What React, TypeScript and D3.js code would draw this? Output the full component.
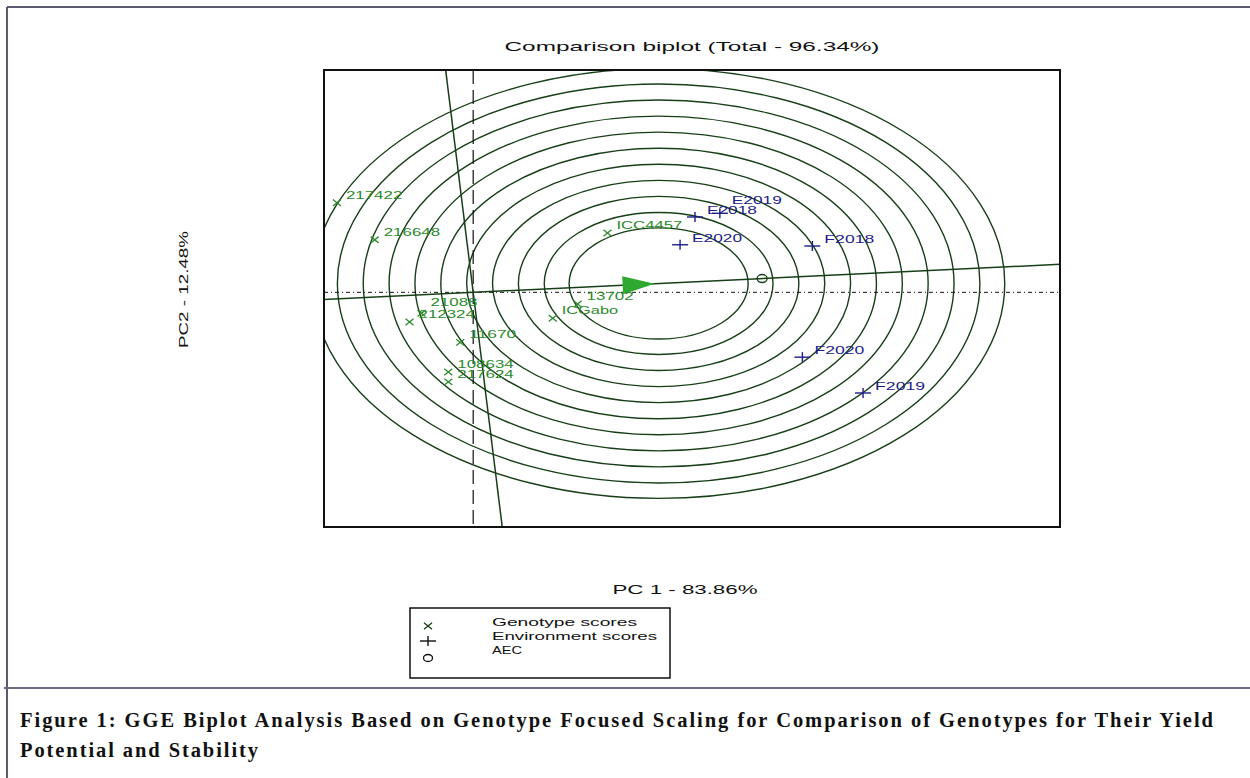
import * as d3 from 'd3';

// genotype scores (PC1, PC2)
const genotypes = ['217422', '216648', 'ICC4457', '13702', 'ICGabo', '21088', '212324', '11670', '108634', '217624'];
const genoPC1 = [-1.37, -0.99, 1.35, 1.05, 0.8, -0.52, -0.64, -0.13, -0.25, -0.25];
const genoPC2 = [1.45, 0.85, 0.96, -0.19, -0.42, -0.34, -0.48, -0.81, -1.29, -1.45];

// environment scores (PC1, PC2)
const environments = ['E2018', 'E2019', 'E2020', 'F2018', 'F2019', 'F2020'];
const envPC1 = [2.23, 2.48, 2.08, 3.41, 3.92, 3.31];
const envPC2 = [1.22, 1.28, 0.77, 0.75, -1.63, -1.05];

// concentric circles around the ideal genotype
const ringRadii = [0.9, 1.15, 1.41, 1.67, 1.93, 2.19, 2.45, 2.71, 2.97, 3.23, 3.48];
const idealLength = 1.87;

const xDomain = [-1.5, 5.9];
const yDomain = [-3.8, 3.6];

const title = 'Comparison biplot (Total - 96.34%)';
const xLabel = 'PC 1 - 83.86%';
const yLabel = 'PC2 - 12.48%';
const legendItems = ['Genotype scores', 'Environment scores', 'AEC'];
const captionLine1 =
  'Figure 1: GGE Biplot Analysis Based on Genotype Focused Scaling for Comparison of Genotypes for Their Yield';
const captionLine2 = 'Potential and Stability';

const W = 1250;
const H = 778;
const plot = { left: 324, right: 1060, top: 70, bottom: 527 };

const lineGreen = '#173f17';
const genoGreen = '#2a8a2a';
const envBlue = '#1c1c8a';
const labelFont = '"Liberation Sans", Arial, sans-serif';
const captionFont = '"Liberation Serif", "Times New Roman", serif';

// small vertical nudges so crowded labels don't sit on top of each other
const labelNudge: Record<string, number> = { '21088': -3, E2019: -6 };

export default function App() {
  const x = d3.scaleLinear().domain(xDomain).range([plot.left, plot.right]);
  const y = d3.scaleLinear().domain(yDomain).range([plot.bottom, plot.top]);
  const kx = x(1) - x(0);
  const ky = y(0) - y(1);

  // average environment coordinate
  const aecX = d3.mean(envPC1) as number;
  const aecY = d3.mean(envPC2) as number;
  const len = Math.hypot(aecX, aecY);
  const ux = aecX / len;
  const uy = aecY / len;
  const idealX = ux * idealLength;
  const idealY = uy * idealLength;

  const far = 20;
  const aecLine = [x(-ux * far), y(-uy * far), x(ux * far), y(uy * far)];
  const perpLine = [x(uy * far), y(-ux * far), x(-uy * far), y(ux * far)];

  // arrow head at the ideal genotype, pointing along the AEC in screen space
  const sdx = ux * kx;
  const sdy = -uy * ky;
  const sl = Math.hypot(sdx, sdy);
  const dx = sdx / sl;
  const dy = sdy / sl;
  const tipX = x(idealX) - 4 * dx;
  const tipY = y(idealY) - 4 * dy;
  const baseX = tipX - 32 * dx;
  const baseY = tipY - 32 * dy;
  const arrow = [
    [tipX, tipY],
    [baseX - 9 * dy, baseY + 9 * dx],
    [baseX + 9 * dy, baseY - 9 * dx],
  ];

  const cross = (cx: number, cy: number, s: number, color: string, key: string) => (
    <g key={key} stroke={color} strokeWidth={1.3}>
      <line x1={cx - s} y1={cy - s * 0.8} x2={cx + s} y2={cy + s * 0.8} />
      <line x1={cx - s} y1={cy + s * 0.8} x2={cx + s} y2={cy - s * 0.8} />
    </g>
  );
  const plus = (cx: number, cy: number, color: string, key: string) => (
    <g key={key} stroke={color} strokeWidth={1.4}>
      <line x1={cx - 8} y1={cy} x2={cx + 8} y2={cy} />
      <line x1={cx} y1={cy - 5} x2={cx} y2={cy + 5} />
    </g>
  );

  return (
    <svg
      width={W}
      height={H}
      style={{ position: 'absolute', left: 0, top: 0, background: '#fff' }}
      fontFamily={labelFont}
    >
      <defs>
        <clipPath id="plotClip">
          <rect x={plot.left} y={plot.top} width={plot.right - plot.left} height={plot.bottom - plot.top} />
        </clipPath>
      </defs>

      {/* page frame */}
      <line x1={7} y1={7} x2={W} y2={7} stroke="#5a5a70" strokeWidth={2} />
      <line x1={7} y1={7} x2={7} y2={H} stroke="#5a5a70" strokeWidth={2} />
      <line x1={4} y1={688} x2={W} y2={688} stroke="#6a6a80" strokeWidth={2} />

      <text x={(plot.left + plot.right) / 2} y={51} textAnchor="middle" fontSize={13} textLength={375}
        lengthAdjust="spacingAndGlyphs" fill="#111">
        {title}
      </text>

      <g clipPath="url(#plotClip)">
        {ringRadii.map((r, i) => (
          <ellipse key={i} cx={x(idealX)} cy={y(idealY)} rx={r * kx} ry={r * ky}
            fill="none" stroke={lineGreen} strokeWidth={1.4} />
        ))}
        <line x1={plot.left} y1={y(0)} x2={plot.right} y2={y(0)} stroke="#111" strokeWidth={1}
          strokeDasharray="4 3 1 3" />
        <line x1={x(0)} y1={plot.top} x2={x(0)} y2={plot.bottom} stroke="#111" strokeWidth={1.2}
          strokeDasharray="14 6" />
        <line x1={aecLine[0]} y1={aecLine[1]} x2={aecLine[2]} y2={aecLine[3]} stroke={lineGreen} strokeWidth={1.5} />
        <line x1={perpLine[0]} y1={perpLine[1]} x2={perpLine[2]} y2={perpLine[3]} stroke={lineGreen} strokeWidth={1.5} />
        <polygon points={arrow.map((p) => p.join(',')).join(' ')} fill="#2fa82f" />

        {genotypes.map((g, i) => {
          const gx = x(genoPC1[i]);
          const gy = y(genoPC2[i]);
          return (
            <g key={g}>
              {cross(gx, gy, 4, genoGreen, 'm' + g)}
              <text x={gx + 9} y={gy - 4 + (labelNudge[g] || 0)} fontSize={10.5} fill={genoGreen}
                textLength={g.length * 9.4} lengthAdjust="spacingAndGlyphs">
                {g}
              </text>
            </g>
          );
        })}

        {environments.map((e, i) => {
          const ex = x(envPC1[i]);
          const ey = y(envPC2[i]);
          return (
            <g key={e}>
              {plus(ex, ey, envBlue, 'm' + e)}
              <text x={ex + 12} y={ey - 3 + (labelNudge[e] || 0)} fontSize={10.5} fill={envBlue}
                textLength={e.length * 10} lengthAdjust="spacingAndGlyphs">
                {e}
              </text>
            </g>
          );
        })}

        <ellipse cx={x(aecX)} cy={y(aecY)} rx={5} ry={4} fill="none" stroke={lineGreen} strokeWidth={1.4} />
      </g>

      <rect x={plot.left} y={plot.top} width={plot.right - plot.left} height={plot.bottom - plot.top}
        fill="none" stroke="#111" strokeWidth={2} />

      <text x={685} y={594} textAnchor="middle" fontSize={12} textLength={145} lengthAdjust="spacingAndGlyphs"
        fill="#111">
        {xLabel}
      </text>
      <text transform={`translate(188,${(plot.top + plot.bottom) / 2 - 9}) rotate(-90)`} textAnchor="middle"
        fontSize={12} textLength={117} lengthAdjust="spacingAndGlyphs" fill="#111">
        {yLabel}
      </text>

      {/* legend */}
      <rect x={410} y={608} width={260} height={70} fill="#fff" stroke="#111" strokeWidth={1.5} />
      {cross(428, 626, 4, lineGreen, 'lg0')}
      {plus(428, 641, '#111', 'lg1')}
      <ellipse cx={428} cy={658} rx={4.5} ry={3.5} fill="none" stroke="#111" strokeWidth={1.3} />
      {legendItems.map((t, i) => (
        <text key={t} x={492} y={626 + i * 14} fontSize={10.5} fill="#111" textLength={[145, 165, 30][i]}
          lengthAdjust="spacingAndGlyphs">
          {t}
        </text>
      ))}

      {/* caption */}
      <text x={20} y={727} fontFamily={captionFont} fontWeight="bold" fontSize={20.5} fill="#111"
        textLength={1193} lengthAdjust="spacing">
        {captionLine1}
      </text>
      <text x={20} y={757} fontFamily={captionFont} fontWeight="bold" fontSize={20.5} fill="#111"
        textLength={238} lengthAdjust="spacing">
        {captionLine2}
      </text>
    </svg>
  );
}
